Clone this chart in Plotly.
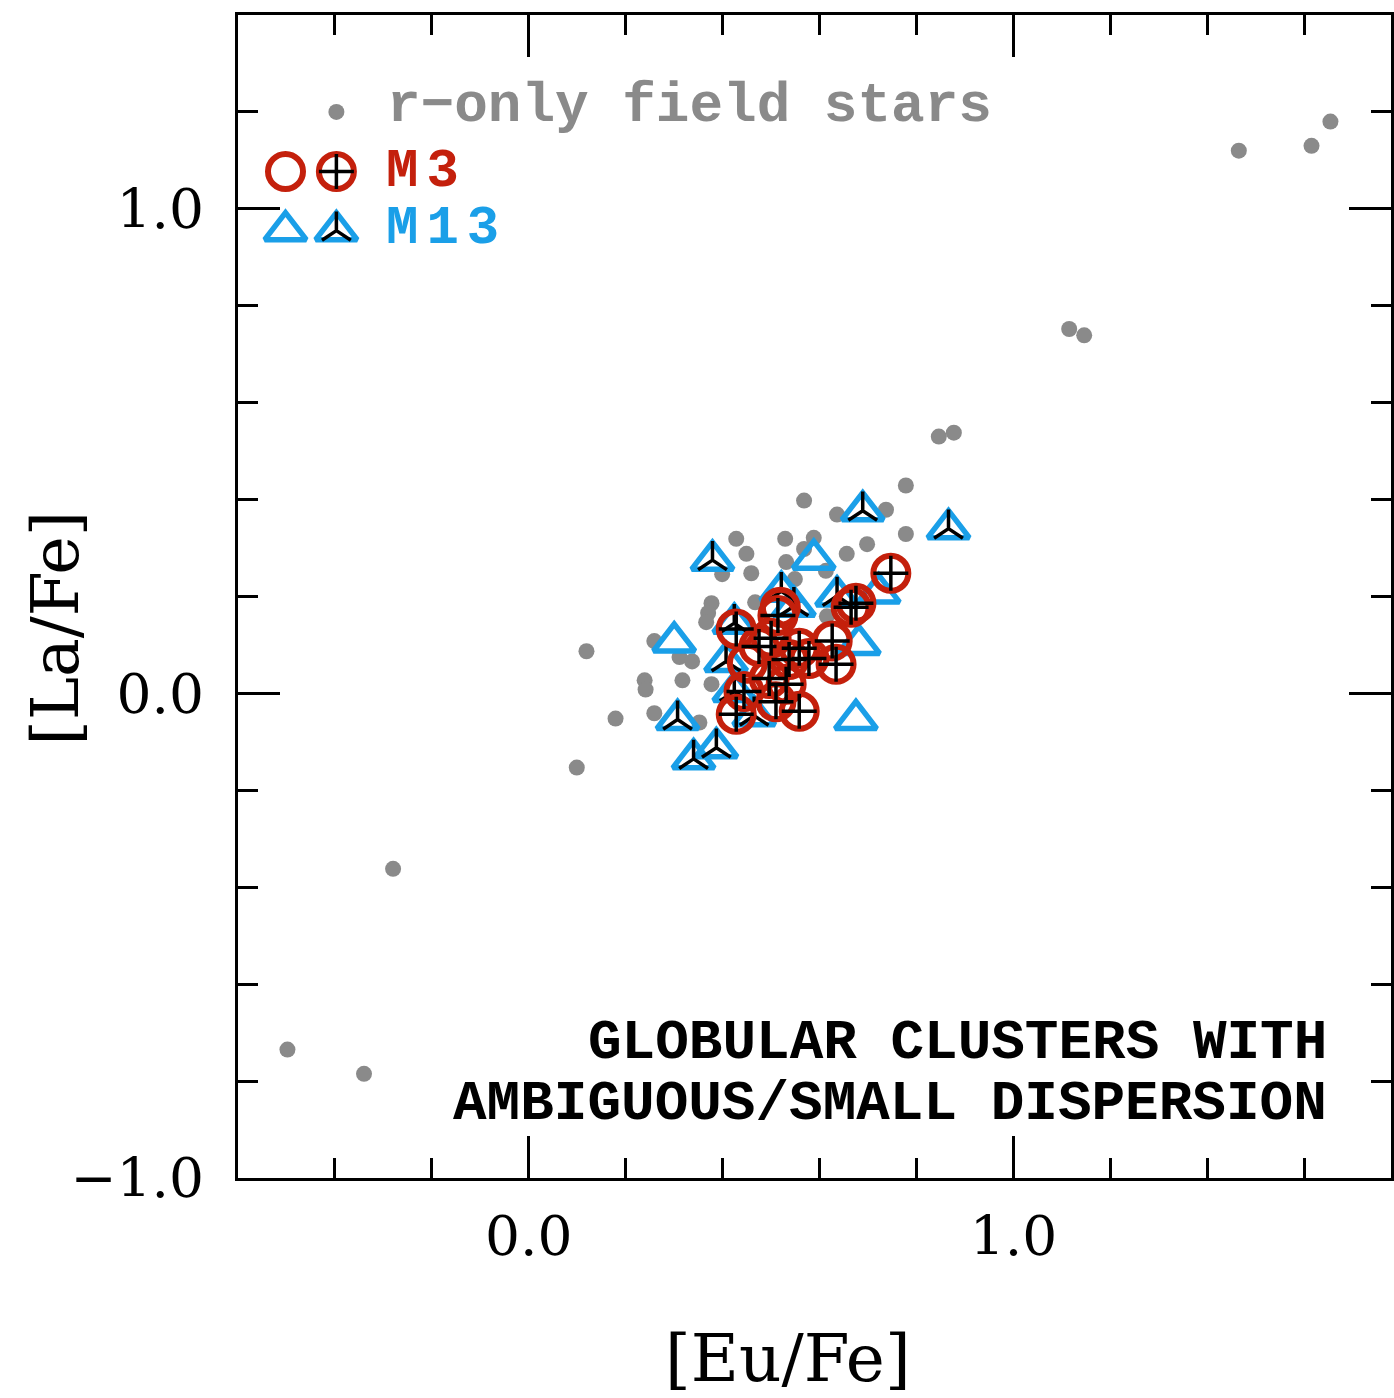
import plotly.graph_objects as go

# ---------------- data ----------------
field_eu = [1.654, 1.615, 1.465, 1.115, 1.146, 0.846, 0.877, 0.778, 0.568, 0.636,
            0.737, 0.778, 0.698, 0.656, 0.529, 0.588, 0.568, 0.531, 0.549, 0.613,
            0.615, 0.428, 0.449, 0.459, 0.399, 0.377, 0.370, 0.366, 0.467, 0.119,
            0.259, 0.311, 0.337, 0.239, 0.241, 0.317, 0.377, 0.179, 0.259, 0.352,
            0.099, -0.280, -0.498, -0.340]
field_la = [1.180, 1.130, 1.120, 0.752, 0.739, 0.530, 0.538, 0.429, 0.398, 0.369,
            0.379, 0.329, 0.308, 0.288, 0.319, 0.321, 0.298, 0.271, 0.236, 0.253,
            0.159, 0.319, 0.288, 0.248, 0.246, 0.186, 0.166, 0.147, 0.188, 0.087,
            0.108, 0.075, 0.066, 0.027, 0.008, 0.027, 0.019, -0.052, -0.041, -0.060,
            -0.153, -0.362, -0.735, -0.785]

# M13: triangles with spokes / open triangles
m13s_eu = [0.689, 0.866, 0.379, 0.521, 0.636, 0.307, 0.340, 0.387, 0.424, 0.407,
           0.424, 0.465, 0.547]
m13s_la = [0.377, 0.340, 0.275, 0.211, 0.201, -0.054, -0.135, -0.112, 0.145, 0.066,
           0.004, -0.046, 0.180]
m13o_eu = [0.588, 0.681, 0.722, 0.300, 0.675]
m13o_la = [0.277, 0.101, 0.207, 0.106, -0.054]

# M3: crossed circles / open circles
m3c_eu = [0.747, 0.675, 0.665, 0.428, 0.514, 0.500, 0.558, 0.578, 0.634, 0.626,
          0.531, 0.510, 0.558, 0.428, 0.444, 0.496, 0.537, 0.475]
m3c_la = [0.248, 0.186, 0.178, 0.133, 0.161, 0.114, 0.093, 0.072, 0.060, 0.108,
          0.019, -0.017, -0.037, -0.043, 0.004, 0.031, 0.070, 0.097]
m3o_eu = [0.519, 0.451]
m3o_la = [0.178, 0.062]

x_ticks = [0.0, 1.0]
x_ticktext = ["0.0", "1.0"]
y_ticks = [-1.0, 0.0, 1.0]
y_ticktext = ["\u22121.0", "0.0", "1.0"]

legend_labels = ["r\u2212only field stars", "M3", "M13"]
note_lines = ["GLOBULAR CLUSTERS WITH", "AMBIGUOUS/SMALL DISPERSION"]

# ---------------- styles ----------------
GRAY = "#8a8a8a"
RED = "#c4200c"
BLUE = "#1a9fe8"
BLACK = "#000000"

# legend key anchor positions (data units, top-left corner of panel)
LEG_X = [-0.502, -0.397]
LEG_Y = [1.200, 1.077, 0.955]

fig = go.Figure()


def add_pts(x, y, symbol, size, color, lw):
    fig.add_trace(go.Scatter(
        x=x, y=y, mode="markers", showlegend=False, hoverinfo="skip",
        marker=dict(symbol=symbol, size=size, color=color,
                    line=dict(color=color, width=lw))))


def field(x, y):
    fig.add_trace(go.Scatter(x=x, y=y, mode="markers", showlegend=False, hoverinfo="skip",
                             marker=dict(symbol="circle", size=16, color=GRAY,
                                         line=dict(width=0))))


TRI = 36
SPOKE = 24
CIR = 35
CROSS = 25

# data
field(field_eu, field_la)
add_pts(m13o_eu, m13o_la, "triangle-up-open", TRI, BLUE, 5.5)
add_pts(m13s_eu, m13s_la, "triangle-up-open", TRI, BLUE, 5.5)
add_pts(m13s_eu, m13s_la, "y-up-open", SPOKE, BLACK, 3.5)
add_pts(m3o_eu + m3c_eu, m3o_la + m3c_la, "circle-open", CIR, RED, 6)
add_pts(m3c_eu, m3c_la, "cross-thin-open", CROSS, BLACK, 3.5)

# legend keys
field([LEG_X[1]], [LEG_Y[0]])
add_pts(LEG_X, [LEG_Y[1]] * 2, "circle-open", CIR, RED, 6)
add_pts([LEG_X[1]], [LEG_Y[1]], "cross-thin-open", CROSS, BLACK, 3.5)
add_pts(LEG_X, [LEG_Y[2]] * 2, "triangle-up-open", TRI, BLUE, 5.5)
add_pts([LEG_X[1]], [LEG_Y[2]], "y-up-open", SPOKE, BLACK, 3.5)

W, H = 1394, 1398
L, R, T, B = 238, 0, 15, 220

axis_common = dict(
    showline=True, linewidth=3, linecolor=BLACK, mirror="ticks",
    ticks="inside", ticklen=42, tickwidth=3, tickcolor=BLACK,
    showgrid=False, zeroline=False,
    tickfont=dict(family="DejaVu Serif", size=55, color=BLACK),
    minor=dict(tickmode="linear", tick0=0, dtick=0.2, ticks="inside",
               ticklen=20, tickwidth=3, tickcolor=BLACK, showgrid=False),
)

fig.update_layout(
    width=W, height=H,
    margin=dict(l=L, r=R, t=T, b=B, pad=0),
    paper_bgcolor="white", plot_bgcolor="white",
    showlegend=False,
    xaxis=dict(range=[-0.6, 1.779], tickmode="array", tickvals=x_ticks,
               ticktext=x_ticktext, ticklabelstandoff=8, **axis_common),
    yaxis=dict(range=[-1.0, 1.4], tickmode="array", tickvals=y_ticks,
               ticktext=y_ticktext, ticklabelstandoff=20, **axis_common),
)

pw, ph = W - L - R, H - T - B


def px_x(p):
    return (p - L) / pw


def px_y(p):
    return (H - B - p) / ph


mono = "Liberation Mono"
fig.add_annotation(x=px_x(385), y=px_y(106), xref="paper", yref="paper",
                   xanchor="left", yanchor="middle", showarrow=False,
                   text="<b>" + legend_labels[0] + "</b>",
                   font=dict(family=mono, size=56, color=GRAY))
fig.add_annotation(x=px_x(384), y=px_y(171), xref="paper", yref="paper",
                   xanchor="left", yanchor="middle", showarrow=False,
                   text="<b><span style='letter-spacing:8px'>" + legend_labels[1] + "</span></b>",
                   font=dict(family=mono, size=54, color=RED))
fig.add_annotation(x=px_x(384), y=px_y(228), xref="paper", yref="paper",
                   xanchor="left", yanchor="middle", showarrow=False,
                   text="<b><span style='letter-spacing:8px'>" + legend_labels[2] + "</span></b>",
                   font=dict(family=mono, size=54, color=BLUE))

fig.add_annotation(x=px_x(1332), y=px_y(1043), xref="paper", yref="paper",
                   xanchor="right", yanchor="middle", showarrow=False,
                   text="<b>" + note_lines[0] + "</b>",
                   font=dict(family=mono, size=56, color=BLACK))
fig.add_annotation(x=px_x(1332), y=px_y(1104), xref="paper", yref="paper",
                   xanchor="right", yanchor="middle", showarrow=False,
                   text="<b>" + note_lines[1] + "</b>",
                   font=dict(family=mono, size=56, color=BLACK))

# axis titles
fig.add_annotation(x=px_x(789), y=px_y(1358), xref="paper", yref="paper",
                   xanchor="center", yanchor="middle", showarrow=False,
                   text="[Eu/Fe]", font=dict(family="DejaVu Serif", size=66, color=BLACK))
fig.add_annotation(x=px_x(55), y=px_y(628), xref="paper", yref="paper",
                   xanchor="center", yanchor="middle", showarrow=False, textangle=-90,
                   text="[La/Fe]", font=dict(family="DejaVu Serif", size=65, color=BLACK))

fig.write_html("out.html", config={"displayModeBar": False},
               post_script="document.body.style.margin='0';document.body.style.overflow='hidden';")
